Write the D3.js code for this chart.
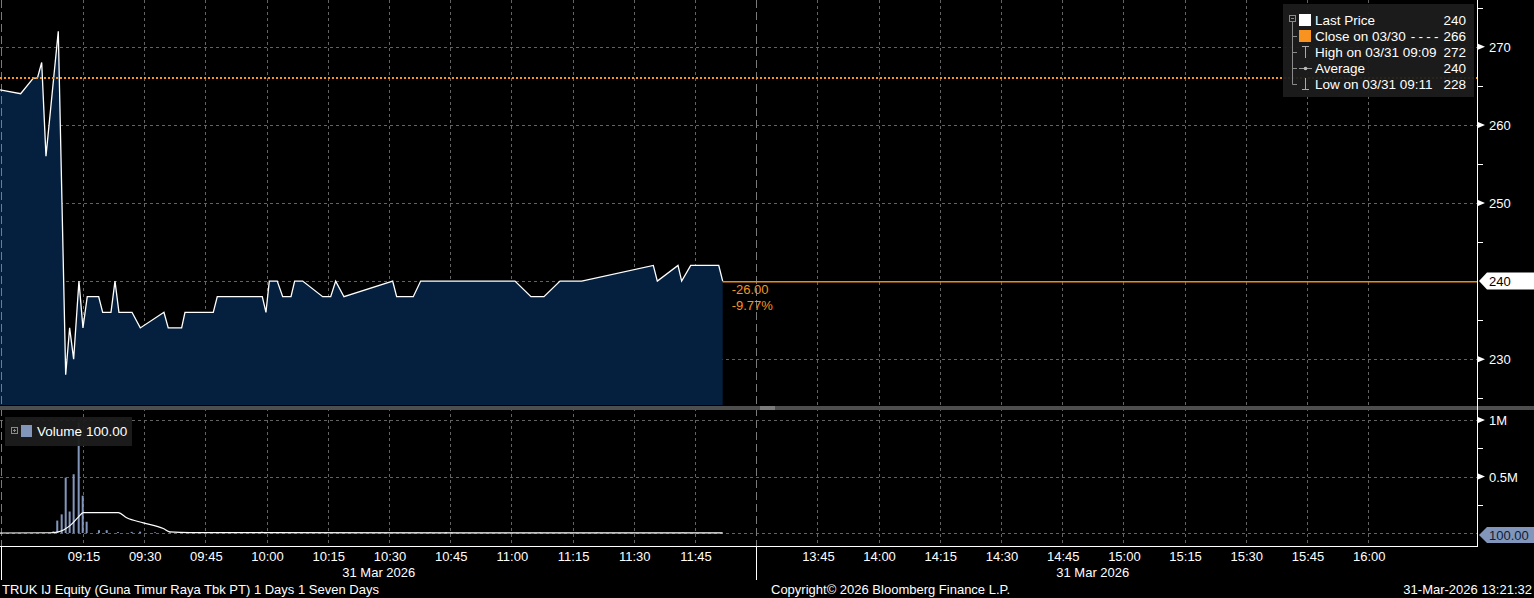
<!DOCTYPE html>
<html><head><meta charset="utf-8">
<script src="https://cdn.jsdelivr.net/npm/d3@7"></script>
<style>
html,body{margin:0;padding:0;background:#000;overflow:hidden}
svg{display:block}
</style></head><body>
<svg id="c" width="1534" height="598"></svg>
<script>
// ---------------- data ----------------
const priceTimes = ["08:54:40","08:59:44","09:02:50","09:03:50","09:04:53","09:05:56","09:08:57","09:10:46","09:11:44","09:12:43","09:14:01","09:15:00","09:16:03","09:18:51","09:19:50","09:21:52","09:22:51","09:23:49","09:27:01","09:29:03","09:34:51","09:35:54","09:39:11","09:40:00","09:46:56","09:47:55","09:58:57","09:59:51","10:00:40","10:02:37","10:03:57","10:05:59","10:06:53","10:08:51","10:13:45","10:15:43","10:16:56","10:18:58","10:30:54","10:31:53","10:35:57","10:37:46","11:00:53","11:04:48","11:07:59","11:11:55","11:17:14","11:34:47","11:35:46","11:40:50","11:41:44","11:43:57","11:50:49","11:51:47"];
const priceValues = [264.5,264,266,266,268,256,272,228,234,230,240,234,238,238,236,236,240,236,236,234,236,234,234,236,236,238,238,236,240,240,238,238,240,240,238,238,240,238,240,238,238,240,240,238,238,240,240,242,240,242,240,242,242,240];

const volTimes = ["09:07:46","09:08:42","09:09:47","09:10:46","09:11:44","09:12:43","09:13:57","09:14:56","09:15:54","09:18:55","09:20:49","09:23:35","09:26:56","09:29:00","09:32:40","09:36:20","09:38:50","09:43:40","09:45:40","09:47:30","09:50:20","09:53:40","09:58:50","10:05:50","10:15:00","10:37:00","10:40:00","10:44:00","10:45:20","11:07:00","11:21:00","11:42:00"];
const volValues = [15000,110000,165000,490000,190000,520000,980000,330000,100000,25000,25000,8000,10000,12000,6000,5000,6000,5000,4000,6000,5000,4000,12000,5000,4000,5000,6000,8000,6000,4000,4000,5000];

const avgTimes = ["08:54:40","09:06:55","09:08:57","09:11:49","09:13:51","09:15:04","09:23:39","09:25:43","09:29:47","09:34:41","09:36:19","09:41:12","11:51:47"];
const avgValues = [0,2000,10000,65000,140000,180000,180000,135000,90000,40000,10000,3000,1000];

const sessionBounds = ["08:54:40","12:00:00","13:30:00","16:26:40"];
const timeTicks = ["09:15","09:30","09:45","10:00","10:15","10:30","10:45","11:00","11:15","11:30","11:45","13:45","14:00","14:15","14:30","14:45","15:00","15:15","15:30","15:45","16:00"];
const sessionLines = ["08:54:55","12:00:00"];
const priceTicks = [230,240,250,260,270];
const priceMinorTicks = [225,235,245,255,265,275];
const volTicks = [500000,1000000];
const volTickLabels = ["0.5M","1M"];
const volMinorTicks = [250000,750000];

const lastPrice = 240, prevClose = 266;
const legendLabels = ["Last Price","Close on 03/30","High on 03/31 09:09","Average","Low on 03/31 09:11"];
const legendValues = ["240","266","272","240","228"];
const lastVolume = "100.00";
const dateLabels = ["31 Mar 2026","31 Mar 2026"];
const dateLabelTimes = ["10:27:30","14:52:30"];

// ---------------- helpers ----------------
const toMin = s => { const p = s.split(":").map(Number); return p[0]*60 + p[1] + (p[2]||0)/60; };
const FONT = "'Liberation Sans', Arial, sans-serif";
const W = 1534, H = 598;
const axisX = 1477, priceBottom = 405, volTop = 420, volBottom = 533, xAxisY = 546;
const ORANGE = "#f7931e";

const svg = d3.select("#c");
svg.append("rect").attr("width",W).attr("height",H).attr("fill","#000");

const x = d3.scaleLinear()
  .domain(sessionBounds.map(toMin))
  .range([0, 756.2, 756.2, axisX]);
const y = d3.scaleLinear().domain([224,276]).range([406,0]);
const yv = d3.scaleLinear().domain([0,1000000]).range([volBottom, volTop]);

const price = priceTimes.map((t,i)=>({t:toMin(t), v:priceValues[i]}));
const vol = volTimes.map((t,i)=>({t:toMin(t), v:volValues[i]}));
const avg = avgTimes.map((t,i)=>({t:toMin(t), v:avgValues[i]}));

// ---------------- grid ----------------
const grid = svg.append("g");
const gridColor = "#636363";
timeTicks.forEach(tt=>{
  const gx = Math.round(x(toMin(tt)))+0.5;
  grid.append("line").attr("x1",gx).attr("x2",gx).attr("y1",0).attr("y2",xAxisY)
    .attr("stroke",gridColor).attr("stroke-dasharray","3,3");
});
priceTicks.forEach(p=>{
  const gy = Math.round(y(p))+0.5;
  grid.append("line").attr("x1",0).attr("x2",axisX).attr("y1",gy).attr("y2",gy)
    .attr("stroke",gridColor).attr("stroke-dasharray","3,3");
});
[0].concat(volTicks).forEach(v=>{
  const gy = Math.round(yv(v))+0.5;
  grid.append("line").attr("x1",0).attr("x2",axisX).attr("y1",gy).attr("y2",gy)
    .attr("stroke",gridColor).attr("stroke-dasharray","3,3");
});

// ---------------- price area ----------------
const area = d3.area().x(d=>x(d.t)).y0(priceBottom).y1(d=>y(d.v));
svg.append("path").datum(price).attr("d",area).attr("fill","#05203e");

// session divider lines
sessionLines.forEach(s=>{
  const sx = Math.round(x(toMin(s)))+0.5;
  svg.append("line").attr("x1",sx).attr("x2",sx).attr("y1",0).attr("y2",xAxisY)
    .attr("stroke","#7a7a7a").attr("stroke-dasharray","8,4");
});

const line = d3.line().x(d=>x(d.t)).y(d=>y(d.v));
svg.append("path").datum(price).attr("d",line).attr("fill","none")
  .attr("stroke","#ffffff").attr("stroke-width",1.3).attr("stroke-linejoin","miter");

// previous close dotted line
svg.append("line").attr("x1",0).attr("x2",axisX).attr("y1",y(prevClose)).attr("y2",y(prevClose))
  .attr("stroke",ORANGE).attr("stroke-width",2).attr("stroke-dasharray","2,2");
// last price line
const lastPt = price[price.length-1];
const lpy = Math.round(y(lastPrice));
svg.append("rect").attr("x",x(lastPt.t)).attr("y",lpy).attr("width",axisX-x(lastPt.t)).attr("height",1.5)
  .attr("fill","#f08a12");

const chg = lastPrice - prevClose;
svg.append("text").attr("x",x(lastPt.t)+9).attr("y",y(lastPrice)+13)
  .attr("fill",ORANGE).attr("font-family",FONT).attr("font-size",13)
  .text(chg.toFixed(2));
svg.append("text").attr("x",x(lastPt.t)+9).attr("y",y(lastPrice)+29)
  .attr("fill",ORANGE).attr("font-family",FONT).attr("font-size",13)
  .text((chg/prevClose*100).toFixed(2)+"%");

// ---------------- separator ----------------
svg.append("rect").attr("x",0).attr("y",406).attr("width",W).attr("height",4).attr("fill","#4e4e4e");
svg.append("line").attr("x1",760).attr("x2",775).attr("y1",407).attr("y2",407).attr("stroke","#a8a8a8");
svg.append("line").attr("x1",760).attr("x2",775).attr("y1",409).attr("y2",409).attr("stroke","#a8a8a8");

// ---------------- volume ----------------
svg.append("g").selectAll("rect").data(vol).join("rect")
  .attr("x",d=>x(d.t)-1).attr("width",2)
  .attr("y",d=>yv(d.v)).attr("height",d=>volBottom-yv(d.v))
  .attr("fill","#8296bb");
const vline = d3.line().x(d=>x(d.t)).y(d=>yv(d.v)).curve(d3.curveMonotoneX);
svg.append("path").datum(avg).attr("d",vline).attr("fill","none")
  .attr("stroke","#ffffff").attr("stroke-width",1.2);

// ---------------- right axis ----------------
const ax = svg.append("g");
ax.append("line").attr("x1",axisX+0.5).attr("x2",axisX+0.5).attr("y1",0).attr("y2",xAxisY).attr("stroke","#fff");
function majorTick(yy,label){
  ax.append("path").attr("d",`M${axisX+1},${yy-3} L${axisX+8},${yy} L${axisX+1},${yy+3} Z`).attr("fill","#fff");
  ax.append("text").attr("x",axisX+12).attr("y",yy+5).attr("fill","#fff")
    .attr("font-family",FONT).attr("font-size",13).text(label);
}
function minorTick(yy){
  ax.append("line").attr("x1",axisX).attr("x2",axisX+6).attr("y1",Math.round(yy)+0.5).attr("y2",Math.round(yy)+0.5).attr("stroke","#fff");
}
priceTicks.filter(p=>p!==lastPrice).forEach(p=>majorTick(y(p),p));
priceMinorTicks.forEach(p=>minorTick(y(p)));
volTicks.forEach((v,i)=>majorTick(yv(v),volTickLabels[i]));
volMinorTicks.forEach(v=>minorTick(yv(v)));

// last price tag
const ly = y(lastPrice);
ax.append("path").attr("d",`M${axisX+2},${ly} L${axisX+10},${ly-8.5} L${W},${ly-8.5} L${W},${ly+8.5} L${axisX+10},${ly+8.5} Z`).attr("fill","#fff");
ax.append("text").attr("x",axisX+12).attr("y",ly+5).attr("fill","#000").attr("font-family",FONT).attr("font-size",13).text(lastPrice);
// last volume tag
const vy = yv(0)+2;
ax.append("path").attr("d",`M${axisX+2},${vy} L${axisX+10},${vy-8} L${W},${vy-8} L${W},${vy+8} L${axisX+10},${vy+8} Z`).attr("fill","#8296bb");
ax.append("text").attr("x",axisX+12).attr("y",vy+5).attr("fill","#0e1c36").attr("font-family",FONT).attr("font-size",13).text(lastVolume);

// ---------------- bottom axis ----------------
const xa = svg.append("g");
xa.append("line").attr("x1",0).attr("x2",axisX+1).attr("y1",xAxisY+0.5).attr("y2",xAxisY+0.5).attr("stroke","#fff");
xa.append("line").attr("x1",1.5).attr("x2",1.5).attr("y1",xAxisY).attr("y2",580).attr("stroke","#fff");
xa.append("line").attr("x1",Math.round(x(toMin("12:00")))+0.5).attr("x2",Math.round(x(toMin("12:00")))+0.5).attr("y1",xAxisY).attr("y2",580).attr("stroke","#fff");
timeTicks.forEach(tt=>{
  xa.append("text").attr("x",x(toMin(tt))+1).attr("y",561).attr("text-anchor","middle")
    .attr("fill","#fff").attr("font-family",FONT).attr("font-size",13).text(tt);
});
dateLabels.forEach((d,i)=>{
  xa.append("text").attr("x",x(toMin(dateLabelTimes[i]))).attr("y",577).attr("text-anchor","middle")
    .attr("fill","#fff").attr("font-family",FONT).attr("font-size",13).text(d);
});
svg.append("text").attr("x",2).attr("y",594).attr("fill","#fff").attr("font-family",FONT).attr("font-size",13)
  .text("TRUK IJ Equity (Guna Timur Raya Tbk PT) 1 Days 1 Seven Days");
svg.append("text").attr("x",771).attr("y",594).attr("fill","#fff").attr("font-family",FONT).attr("font-size",13)
  .text("Copyright\u00A9 2026 Bloomberg Finance L.P.");
svg.append("text").attr("x",1532).attr("y",594).attr("text-anchor","end").attr("fill","#fff").attr("font-family",FONT).attr("font-size",13)
  .text("31-Mar-2026 13:21:32");

// ---------------- price legend ----------------
const lg = svg.append("g");
lg.append("rect").attr("x",1283).attr("y",4).attr("width",191).attr("height",93).attr("fill","#1c1c1c").attr("opacity",0.95);
const rowY = i => 20 + 16*i;
const treeC = "#8a8a8a";
lg.append("rect").attr("x",1289.5).attr("y",15.5).attr("width",6).attr("height",6).attr("fill","none").attr("stroke",treeC);
lg.append("line").attr("x1",1291).attr("x2",1294).attr("y1",18.5).attr("y2",18.5).attr("stroke",treeC);
lg.append("line").attr("x1",1292.5).attr("x2",1292.5).attr("y1",22).attr("y2",rowY(4)+0.5).attr("stroke",treeC);
[1,2,3,4].forEach(i=>lg.append("line").attr("x1",1292.5).attr("x2",1297).attr("y1",rowY(i)+0.5).attr("y2",rowY(i)+0.5).attr("stroke",treeC));
lg.append("rect").attr("x",1299).attr("y",rowY(0)-6).attr("width",12).attr("height",12).attr("fill","#fff");
lg.append("rect").attr("x",1299).attr("y",rowY(1)-6).attr("width",12).attr("height",12).attr("fill",ORANGE);
// high icon
lg.append("line").attr("x1",1305.5).attr("x2",1305.5).attr("y1",rowY(2)-6).attr("y2",rowY(2)+6).attr("stroke","#aaa");
lg.append("line").attr("x1",1302).attr("x2",1309).attr("y1",rowY(2)-5.5).attr("y2",rowY(2)-5.5).attr("stroke","#aaa");
// average icon
lg.append("line").attr("x1",1299).attr("x2",1312).attr("y1",rowY(3)+0.5).attr("y2",rowY(3)+0.5).attr("stroke","#999");
lg.append("circle").attr("cx",1305.5).attr("cy",rowY(3)+0.5).attr("r",1.8).attr("fill","#bbb");
// low icon
lg.append("line").attr("x1",1305.5).attr("x2",1305.5).attr("y1",rowY(4)-6).attr("y2",rowY(4)+6).attr("stroke","#aaa");
lg.append("line").attr("x1",1302).attr("x2",1309).attr("y1",rowY(4)+5.5).attr("y2",rowY(4)+5.5).attr("stroke","#aaa");
legendLabels.forEach((l,i)=>{
  const t = lg.append("text").attr("x",1315).attr("y",rowY(i)+5).attr("fill","#fff").attr("font-family",FONT).attr("font-size",13.5).text(l);
  if (i===1) t.append("tspan").attr("dx",5).attr("letter-spacing",3.2).text("----");
  lg.append("text").attr("x",1466).attr("y",rowY(i)+5).attr("text-anchor","end").attr("fill","#fff").attr("font-family",FONT).attr("font-size",13.5).text(legendValues[i]);
});

// ---------------- volume legend ----------------
const vg = svg.append("g");
vg.append("rect").attr("x",5).attr("y",417).attr("width",127).attr("height",29).attr("fill","#1c1c1c").attr("opacity",0.95);
vg.append("rect").attr("x",11.5).attr("y",427.5).attr("width",6).attr("height",6).attr("fill","none").attr("stroke",treeC);
vg.append("line").attr("x1",13).attr("x2",16).attr("y1",430.5).attr("y2",430.5).attr("stroke",treeC);
vg.append("line").attr("x1",14.5).attr("x2",14.5).attr("y1",429).attr("y2",432).attr("stroke",treeC);
vg.append("rect").attr("x",21).attr("y",425).attr("width",11).attr("height",12).attr("fill","#8296bb");
vg.append("text").attr("x",37).attr("y",436).attr("fill","#fff").attr("font-family",FONT).attr("font-size",13.5).text("Volume");
vg.append("text").attr("x",86).attr("y",436).attr("fill","#fff").attr("font-family",FONT).attr("font-size",13.5).text(lastVolume);
</script>
</body></html>
